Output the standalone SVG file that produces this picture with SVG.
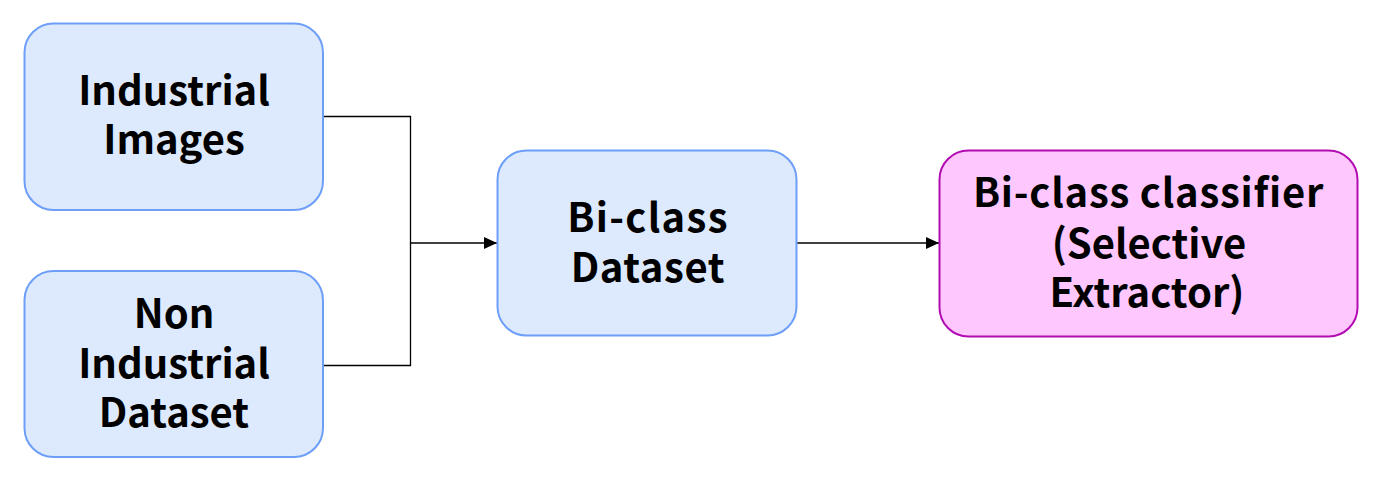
<svg xmlns="http://www.w3.org/2000/svg" width="1387" height="483" viewBox="0 0 1387 483">
<defs>
<marker id="arr" viewBox="0 0 13 12" refX="13" refY="6" markerWidth="13" markerHeight="12" markerUnits="userSpaceOnUse" orient="auto">
<path d="M0,0 L13,6 L0,12 Z" fill="#000"/>
</marker>
<style>
.blue{fill:#dde9fd;stroke:#6d9ef8;stroke-width:2}
.pink{fill:#fec8fe;stroke:#b20bb2;stroke-width:2}
.t{font-family:"Noto Sans CJK JP","Noto Sans",sans-serif;font-weight:bold;font-size:40px;fill:#000;text-anchor:middle}
.c{fill:none;stroke:#000;stroke-width:1.3}
</style>
</defs>
<rect width="1387" height="483" fill="#fff"/>
<g id="connectors">
<path class="c" d="M323,116.5 H410.5 V243"/>
<path class="c" d="M323,365.5 H410.5 V243"/>
<path class="c" d="M410.5,243 H497" marker-end="url(#arr)"/>
<path class="c" d="M797,243 H939" marker-end="url(#arr)"/>
</g>
<g id="industrial-images">
<rect class="blue" x="24.5" y="23.5" width="298.5" height="186.5" rx="29"/>
<text class="t" x="174" y="105">Industrial</text>
<text class="t" x="174" y="154">Images</text>
</g>
<g id="non-industrial-dataset">
<rect class="blue" x="24.5" y="271" width="298.5" height="186" rx="29"/>
<text class="t" x="174" y="328">Non</text>
<text class="t" x="174" y="378">Industrial</text>
<text class="t" x="174" y="427">Dataset</text>
</g>
<g id="bi-class-dataset">
<rect class="blue" x="497.5" y="150.5" width="299" height="185" rx="29"/>
<text class="t" x="648" y="232" letter-spacing="1.3">Bi-class</text>
<text class="t" x="648" y="282" letter-spacing="0.6">Dataset</text>
</g>
<g id="bi-class-classifier">
<rect class="pink" x="939.5" y="150.5" width="418" height="186" rx="29"/>
<text class="t" x="1148.5" y="207" letter-spacing="0.75">Bi-class classifier</text>
<text class="t" x="1149" y="258">(Selective</text>
<text class="t" x="1147" y="307">Extractor)</text>
</g>
</svg>
